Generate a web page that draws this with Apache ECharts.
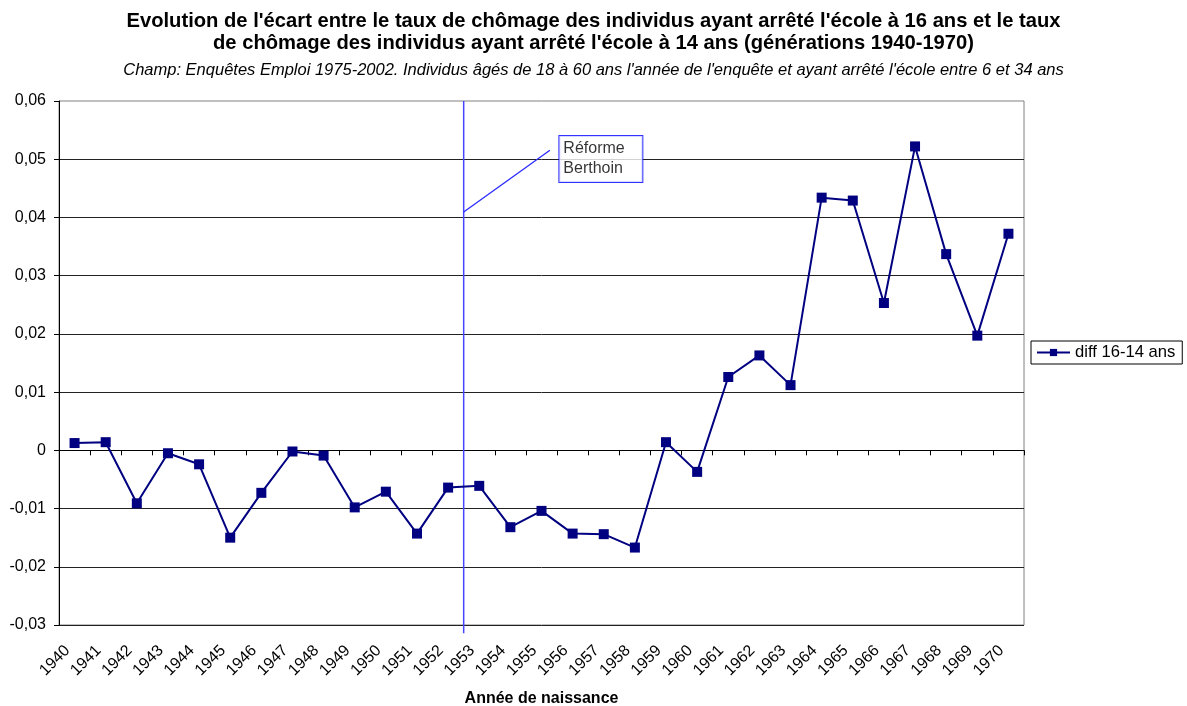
<!DOCTYPE html>
<html>
<head>
<meta charset="utf-8">
<script src="https://cdn.jsdelivr.net/npm/echarts@6/dist/echarts.min.js"></script>
<style>
html,body{margin:0;padding:0;background:#fff;}
#chart{width:1187px;height:706px;}
</style>
</head>
<body>
<div id="chart"></div>
<script>
const years = ['1940','1941','1942','1943','1944','1945','1946','1947','1948','1949','1950','1951','1952','1953','1954','1955','1956','1957','1958','1959','1960','1961','1962','1963','1964','1965','1966','1967','1968','1969','1970'];
const diff1614 = [0.00125,0.0014,-0.0091,-0.0005,-0.0024,-0.0150,-0.0073,-0.0002,-0.0009,-0.0098,-0.0071,-0.0143,-0.0064,-0.0061,-0.0132,-0.0104,-0.0143,-0.0144,-0.0167,0.0014,-0.0037,0.0126,0.0163,0.0112,0.0434,0.0429,0.0253,0.0522,0.0337,0.0197,0.0372];
const yTickLabels = ['-0,03','-0,02','-0,01','0','0,01','0,02','0,03','0,04','0,05','0,06'];
const seriesName = 'diff 16-14 ans';
const titleLine1 = "Evolution de l'écart entre le taux de chômage des individus ayant arrêté l'école à 16 ans et le taux";
const titleLine2 = "de chômage des individus ayant arrêté l'école à 14 ans (générations 1940-1970)";
const subTitleText = "Champ: Enquêtes Emploi 1975-2002. Individus âgés de 18 à 60 ans l'année de l'enquête et ayant arrêté l'école entre 6 et 34 ans";
const axisTitle = 'Année de naissance';
const reformLabel = 'Réforme\nBerthoin';
// reform marker: boundary between 1952 and 1953 (position on a 0..31 category scale)
const reformLine = [[13, 0.06], [13, -0.0314]];
const leaderLine = [[13.0, 0.04095], [15.77, 0.05155]];
const reformBoxCorner = [[16.09, 0.0539]];

const FONT = '"Liberation Sans", Arial, sans-serif';
const chart = echarts.init(document.getElementById('chart'));
const titleStyle = {fontFamily: FONT, fontSize: 20.2, fontWeight: 'bold', color: '#000', lineHeight: 22};
chart.setOption({
  animation: false,
  backgroundColor: '#fff',
  title: [{
    text: titleLine1, left: 'center', top: 10, padding: 0, textStyle: titleStyle
  }, {
    text: titleLine2, left: 'center', top: 32, padding: 0, textStyle: titleStyle
  }, {
    text: subTitleText,
    left: 'center', top: 60, padding: 0,
    textStyle: {fontFamily: FONT, fontSize: 16.5, fontStyle: 'italic', fontWeight: 'normal', color: '#000', lineHeight: 20}
  }],
  legend: {
    data: [seriesName],
    left: 1031, top: 341,
    orient: 'vertical',
    borderColor: '#000', borderWidth: 1,
    padding: [3, 7, 3, 5],
    itemWidth: 33, itemHeight: 9, itemGap: 4,
    textStyle: {fontFamily: FONT, fontSize: 16.6, color: '#000'}
  },
  grid: {left: 59, right: 163, top: 101, bottom: 81, outerBoundsMode: 'none', containLabel: false, show: true, borderColor: '#808080', borderWidth: 1, backgroundColor: '#fff'},
  xAxis: [{
    type: 'category',
    data: years,
    boundaryGap: true,
    name: axisTitle,
    nameLocation: 'middle',
    nameGap: 66,
    nameTextStyle: {fontFamily: FONT, fontSize: 16, fontWeight: 'bold', color: '#000'},
    axisLine: {show: true, lineStyle: {color: '#000', width: 1}},
    axisTick: {show: true, interval: 0, length: 5, lineStyle: {color: '#000'}},
    axisLabel: {
      interval: 0, rotate: 45, margin: 16,
      fontFamily: FONT, fontSize: 16, color: '#000',
      formatter: v => '{a|' + v + '}',
      rich: {a: {fontFamily: FONT, fontSize: 16, color: '#000', padding: [0, 10, 0, 0]}}
    },
    splitLine: {show: false}
  }, {
    type: 'value', min: 0, max: 31, show: false
  }],
  yAxis: {
    type: 'value',
    min: -0.03, max: 0.06, interval: 0.01,
    axisLine: {show: true, lineStyle: {color: '#000', width: 1}},
    axisTick: {show: true, length: 5, lineStyle: {color: '#000'}},
    axisLabel: {
      fontFamily: FONT, fontSize: 16, color: '#000', margin: 13,
      formatter: (v, i) => yTickLabels[i]
    },
    splitLine: {show: true, showMaxLine: false, lineStyle: {color: '#222', width: 1}}
  },
  series: [{
    name: seriesName,
    type: 'line',
    data: diff1614,
    symbol: 'rect',
    symbolSize: 10,
    itemStyle: {color: '#000080'},
    lineStyle: {color: '#000080', width: 2},
    z: 5
  }, {
    type: 'line', xAxisIndex: 1, data: reformLine, clip: false,
    symbol: 'none', silent: true,
    lineStyle: {color: '#4545ff', width: 1.5}, z: 4
  }, {
    type: 'line', xAxisIndex: 1, data: leaderLine, clip: false,
    symbol: 'none', silent: true,
    lineStyle: {color: '#2a2aff', width: 1.3}, z: 4
  }, {
    type: 'scatter', xAxisIndex: 1, data: reformBoxCorner, clip: false,
    symbolSize: 1, itemStyle: {color: 'rgba(0,0,0,0)'}, silent: true, z: 6,
    label: {
      show: true, position: [0, 0], align: 'left', verticalAlign: 'top',
      formatter: reformLabel,
      fontFamily: FONT, fontSize: 16, lineHeight: 20, color: '#000',
      backgroundColor: '#fff', borderColor: '#0000ff', borderWidth: 1,
      padding: [3, 6, 3, 4], width: 73
    }
  }]
});
</script>
</body>
</html>
